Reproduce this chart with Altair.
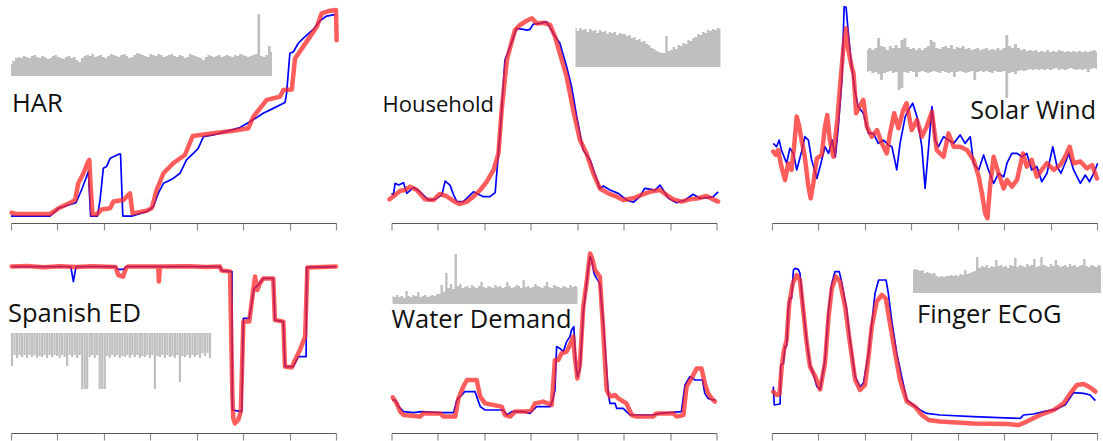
import altair as alt
import pandas as pd

# ---------------- data (x: % of the time axis, y: % of panel height) ----------------
NAMES = ["HAR", "Household", "Solar Wind", "Spanish ED", "Water Demand", "Finger ECoG"]
TICK_VALUES = [100 * k / 7 for k in range(8)]

har_true = [[0,3.1],[12,3.1],[14.6,6.6],[20,9.1],[21.7,14.8],[23.8,23],[24.5,3.1],[26.6,3.1],[27.4,10.3],[28.4,24.5],[29.4,25.3],[30.5,29],[33.3,30.9],[33.7,30.9],[34.4,3.1],[37.1,3.1],[41.7,5.1],[43.8,7.3],[45.3,13.3],[46.9,17.8],[47.9,18.5],[49.9,20],[52,22.3],[54,28.3],[56.1,31.2],[57.6,33.5],[59.2,38.7],[62.3,39.5],[70.5,42.8],[73.5,45.4],[77.6,49.2],[80.7,51.4],[84.3,54],[84.8,58.1],[85.8,76.1],[86.9,76.8],[88.4,80.6],[89.9,82.8],[93,86.8],[95.1,90.7],[97.1,92.8],[99.2,93.3],[99.7,93.3]]
har_pred = [[0.2,4.6],[1.7,4.0],[12,4.0],[14.6,6.6],[18.2,9.1],[19.7,10.3],[20.7,17.8],[22.3,22.3],[23.5,26.8],[24.1,28.3],[24.5,16.3],[25.1,3.9],[26.4,3.9],[27.9,6.1],[30.5,6.6],[31.5,9.6],[34.6,10.3],[36.6,13.3],[37.4,4.3],[41.7,5.5],[43.3,6.6],[44.8,14.8],[46.9,22.3],[49.9,26.8],[53.5,30.5],[55.9,39],[58.2,39.5],[62.3,40.2],[68.4,41.4],[73,42.5],[74.6,47.7],[78.7,55.2],[82.8,56.7],[83.8,59.6],[86.4,59.9],[87.4,73.8],[89.9,79.1],[94.1,88],[95.6,94],[98.2,95.2],[100,95.5],[100.2,82]]

hh_true = [[0,13.3],[0.6,12.6],[1.1,17.8],[2.2,17],[3.7,18.1],[4.7,13.3],[6.8,16],[8.8,14],[11.4,10.3],[13.4,10.6],[15.5,12.6],[16.5,18.8],[18,17],[19.1,12.6],[20.1,9.6],[22.1,9.6],[25.2,14],[28.3,11.8],[30.3,11.8],[31.9,13.6],[33.4,40.2],[34.9,73.1],[36.5,79.1],[38.5,87.3],[40.6,86.8],[41.6,86.5],[42.6,86.8],[43.6,89.2],[45.7,89.5],[47.7,90.3],[49.8,85],[51.8,80.6],[53.9,70.1],[55.4,61.1],[57,47.7],[59,32.7],[61.1,28.3],[64.1,15.5],[65.2,16.6],[67.2,14.8],[69.8,13.3],[72.3,10.3],[74.4,9.3],[76.4,11.8],[77.9,15.5],[80,15.1],[81,14.5],[82.6,17],[83.6,14.8],[85.2,11.1],[87.7,9.1],[90.4,10.3],[92.8,12.9],[94.9,11.1],[97.4,11.4],[99,11.8],[100.5,14]]
hh_pred = [[-0.6,10.6],[1.1,12.6],[2.7,14.5],[4.2,14.8],[5.7,16.3],[7.8,14.8],[10.3,10.6],[12.9,10.3],[14.8,13],[16.9,12.1],[18.9,10],[20.9,8.5],[23.2,9.6],[25.2,11.8],[27.3,14.8],[29.3,18.5],[31.4,23.8],[32.9,31.2],[33.9,50.7],[35.5,73.1],[37,81.3],[38,86.5],[39.5,88.8],[41.6,90.7],[43.2,91.8],[44.7,89.5],[46.7,89.8],[48.8,88.8],[50.3,83.6],[51.8,76.1],[53.9,65.6],[55.9,50.7],[58,37.2],[60,31.2],[62.1,22.3],[64.1,15.5],[66.7,13.3],[69.3,11.8],[71.3,10.3],[74.4,11.1],[76.9,12.6],[79.5,14],[82.6,14.8],[84.6,12.6],[86.7,10.6],[89.3,9.6],[91.8,10.6],[94.4,11.1],[96.9,12.1],[99,10.6],[100.5,9.6]]

sw_true = [[0.4,35.7],[1.4,34.2],[2.2,37.2],[2.9,32.7],[4.5,26.8],[5.5,33.5],[6.6,31.2],[7.6,23.8],[9.1,32],[10.1,38.7],[11.2,37.2],[12.2,28.3],[13.8,20],[14.8,25.3],[16.3,34.2],[17.4,31.2],[18.5,37.2],[19.5,29.7],[20.4,43.2],[21.5,64.1],[22.2,97],[22.8,96.7],[23.5,85],[24.5,70.1],[25.5,59.6],[26.5,52.2],[28.1,49.2],[29.7,40.2],[31.2,40.2],[32.7,35.7],[34.3,37.2],[35.8,35],[36.9,34.2],[38.4,23.8],[39.4,35.7],[41,47.7],[42,50.7],[43.3,53.7],[44.6,47.7],[46.1,34.2],[47.1,15.5],[48.2,34.2],[49.2,52.2],[50.2,37.2],[51.2,34.2],[52.8,38.7],[54.3,37.2],[55.9,35.7],[57.9,39.5],[59.4,35.7],[61,38.7],[62,26.8],[63.6,23.8],[65.1,30.5],[66.6,23.8],[68.2,17.8],[69.7,22.3],[71.3,20.7],[72.3,26.8],[73.8,31.2],[75.4,31.2],[76.9,29.7],[78.4,31.2],[79.9,23.8],[81.5,25.3],[83,18.5],[84.6,22.3],[86.4,34.2],[87.7,25.3],[88.9,22.3],[90.2,26.8],[91.3,31.2],[92.8,23.8],[94.9,17.8],[96.4,21.5],[97.7,18.5],[99,22.3],[100.2,26.8]]
sw_pred = [[0.4,32],[1.2,30.5],[1.9,32.7],[2.9,25.3],[4,19.3],[5,26.8],[6,23.8],[6.8,34.2],[7.6,47.7],[8.4,43.2],[9.1,37.2],[10.1,29.7],[11.2,16.3],[11.9,11.1],[12.7,17.8],[13.8,29],[15.3,30.5],[16.3,43.2],[17,48.4],[17.8,37.2],[18.9,29.7],[20.1,46.2],[21.1,64.1],[22,79.1],[22.8,87.3],[23.5,77.6],[24.5,70.1],[25.1,67.1],[25.9,49.2],[26.9,52.2],[28.1,55.2],[29.2,43.2],[30.7,38.7],[32.3,41.7],[33.8,35.7],[35.3,31.2],[36.3,40.2],[37.6,49.2],[38.9,42.5],[40.4,50.7],[41.4,53.7],[43,41.7],[44.6,46.2],[46.1,38.7],[47.6,43.2],[49.2,49.9],[50.7,32.7],[52.8,29.7],[54.3,40.2],[55.9,34.2],[57.9,34.2],[60,32.7],[62,28.3],[63.6,20.8],[64.6,13.3],[65.6,4.3],[66.3,2.1],[67.1,16.3],[68.2,29.7],[69.7,22.3],[71.3,15.5],[72.3,19.3],[73.8,16.3],[75.4,19.3],[77.2,31.2],[78.4,25.3],[79.9,28.3],[81.5,20.8],[83,23.8],[84.6,26.8],[86.7,23.8],[88.7,26],[90.2,29.7],[91.6,34.2],[92.8,26.8],[94.9,27.6],[96.9,24.5],[98.5,26],[100,20]]

ed_true = [[0.2,83.2],[18.4,83.2],[19.2,75.7],[20,83.2],[32,83.2],[33,81.8],[34.6,81.8],[35.4,83.2],[64.3,83.2],[64.8,81.2],[67.3,80.7],[68,80.7],[68.1,11.5],[71,10.7],[71.5,57.3],[73.3,57.3],[74.8,72.3],[76.1,74],[77.6,77.3],[80.7,77.3],[81.2,56.5],[83.8,55.7],[84.3,33.2],[86.9,33.2],[88.4,38.2],[90.8,38.2],[91,82.8],[100,83.2]]
ed_pred = [[0.2,83.2],[5,83.5],[10,82.9],[15,83.4],[20,83],[25,83.4],[32.2,83],[33,79],[34.5,78.2],[35.4,82.5],[36,83.2],[45.3,83.2],[45.5,75.7],[45.8,83.2],[55,83.4],[60,83],[64.3,83.2],[64.8,81.2],[67.4,80.7],[68.1,20],[68.4,7.3],[68.9,4.8],[69.9,6.5],[70.7,10.7],[71.5,55.7],[73.3,55.7],[74.6,72.3],[75.1,78.2],[75.8,71.5],[76.6,74.8],[77.6,77.3],[80.7,77.3],[81.2,56.5],[83.8,55.7],[84.3,33.2],[86.4,32.8],[87.4,36.5],[88.9,41.5],[90.5,48.2],[91.2,82.8],[100,83.2]]

wd_true = [[0.2,16.5],[1.1,16.5],[2.2,13.2],[3.7,10.7],[6.8,10.2],[9.2,10.7],[15,10.2],[19.1,10.2],[20.1,16.5],[22.1,19.8],[22.5,20.7],[25.7,20.7],[27.3,13.2],[28.8,11.5],[34.4,11.5],[35.5,9],[37,10.7],[40.6,10.7],[42.6,9.8],[43.6,11.5],[44.7,13.2],[48.8,13.2],[49.6,16.5],[50.3,21.5],[50.8,43.2],[51.8,42.3],[52.9,40.7],[53.9,45.7],[54.9,48.2],[55.4,51.5],[56.1,53.2],[56.8,33.2],[57.2,28.2],[58,31.5],[59,59.8],[60,74.8],[60.6,83.2],[61.1,88.2],[61.6,86.5],[62.3,79.8],[63.1,77.3],[64.1,74.8],[65.2,54.8],[66.2,31.5],[66.7,19.8],[67.2,14.8],[68.8,14.8],[69.3,12.3],[71.3,12.3],[72.3,10.7],[73.4,9],[80.5,9],[82.6,9.8],[89.2,10.7],[90.3,24],[91.8,28.2],[93.4,26.5],[95.7,26.5],[96.4,19.8],[97.4,17.3],[99,16.5],[99.8,16.5]]
wd_pred = [[0.4,17.8],[1.6,14.8],[2.7,10.7],[3.7,9],[8.8,8.2],[9.8,9.8],[15,9.8],[16,8.2],[19.6,8.2],[20.6,17.3],[22.1,23.2],[23.2,26.5],[26.2,26.5],[27.3,18.2],[28.8,14.8],[33.9,13.2],[34.9,9],[36.5,8.2],[38,10.7],[41.6,10.7],[43.1,11.5],[44.1,14.8],[46.7,15.7],[49.3,14],[50.3,36.5],[51.3,36.5],[52.3,39.8],[53.9,40.7],[54.9,44],[55.9,48.2],[56.4,38.2],[57.2,27.3],[58,34.8],[59,63.2],[60,74.8],[61.1,89.8],[61.9,86.5],[62.6,81.5],[64.1,78.2],[65,54.8],[66.2,21.5],[67.2,18.2],[68.8,19],[69.8,17.3],[72.3,14.8],[73.9,9],[75.4,8.2],[80.5,8.2],[81.5,9.8],[86.8,9.8],[87.7,8.2],[89.8,9],[90.8,23.2],[92.3,27.3],[93.9,32.3],[95.4,32.3],[96.4,24.8],[97.4,19.8],[98.5,17.3],[99.5,15.7]]

ecog_true = [[0.4,23.2],[0.7,14],[2.5,14.5],[2.7,34],[3.5,34.8],[4,43.2],[4.5,43.5],[5,62.3],[5.5,67.3],[6,67.3],[6.6,81.5],[7.1,82.3],[8.1,81.8],[8.6,79.8],[9.6,62.3],[10.7,45.7],[11.7,34],[12.7,29.8],[13.8,23.2],[14.8,21.8],[16.3,36.5],[17.4,61.5],[18.4,74.8],[19.4,80.7],[20.7,80.7],[21.4,75.8],[23,61.5],[24,46.5],[25.6,28.2],[27.1,23.2],[28.1,24.8],[29.7,39.8],[30.7,54.8],[31.7,69.8],[32.8,76.5],[35.1,76.5],[35.8,69.8],[36.8,56.5],[38.4,39.8],[39.9,28.2],[41.5,16.5],[43.5,14],[45.6,11.5],[47.6,9.8],[51.7,9],[61.9,8.2],[76.4,7.3],[77.4,9],[80.5,9.5],[83.6,10.7],[87.2,11.8],[90.2,14],[92.8,20.2],[95.9,19.8],[97.9,19],[99.5,16.2]]
ecog_pred = [[0.4,20.7],[1.4,19],[2.3,19.5],[3,33.2],[3.7,41.5],[4.5,46.5],[5.3,64.8],[6.4,74.8],[7.6,79],[8.6,76.5],[9.6,61.5],[10.7,44.8],[11.7,33.2],[13.3,28.2],[14.8,21.8],[16.3,34.8],[17.4,58.2],[18.4,72.3],[19.7,78.2],[20.9,75.8],[22.5,63.2],[24,44.8],[25.6,26.5],[27.1,21.5],[28.6,24],[29.7,38.2],[30.7,53.2],[32.2,65.7],[33.8,69],[35,67.3],[36.3,54.8],[37.9,39.8],[39.4,26.5],[41.5,15.7],[44,13.2],[46.1,9],[48.2,6.5],[51.7,5.7],[62,4.8],[72.3,4.5],[75.9,4],[78.4,5.7],[82.5,9],[86.7,11.5],[89.7,14.8],[91.8,19.8],[93.8,24],[95.9,24.5],[97.9,22.8],[99.5,20.7]]

# gray inset input signals (heights, read from the small thumbnails)
har_input = [12,15,18,19,18,20,19,18,20,21,19,18,20,19,17,18,20,21,19,18,
             17,19,20,18,19,16,14,18,20,21,20,22,19,20,21,19,18,20,22,21,
             20,19,21,22,20,18,19,21,23,22,21,20,19,22,21,20,22,21,19,20,
             21,22,20,19,21,20,18,19,22,21,20,19,18,16,19,21,20,19,20,21,
             19,20,21,20,19,21,20,22,21,20,19,20,21,22,62,20,19,21,30,24]
hh_input = [39,36,39,37,38,35,38,36,37,34,37,35,36,33,35,34,35,32,34,33,
            33,31,32,29,30,27,28,25,26,23,22,19,18,16,15,14,14,31,16,17,
            20,18,22,21,24,23,27,26,29,30,33,32,35,34,37,36,38,37,39,38]
sw_input_hi = [10,12,10,12,22,14,13,10,14,12,15,12,20,22,13,11,12,10,12,10,
               12,14,20,18,12,11,13,14,12,15,11,13,12,14,11,12,10,11,12,10,
               11,12,10,11,10,12,10,12,25,14,12,16,12,10,11,9,10,9,10,8,
               9,8,10,8,9,8,10,9,8,9,8,9,8,9,8,9,8,9,10,8]
sw_input_lo = [12,11,13,12,14,20,13,12,11,13,12,30,28,12,13,11,12,17,12,11,
               12,13,12,11,12,13,11,12,13,12,17,12,11,12,13,12,11,20,12,11,
               12,11,12,13,11,12,12,11,38,13,12,14,11,10,11,10,9,10,9,10,
               9,10,9,10,9,8,10,9,10,9,8,9,10,9,10,9,12,9,8,9]
ed_input = [33,22,25,22,24,22,25,22,24,22,25,23,24,22,25,22,24,22,23,25,
            22,24,33,22,24,22,25,22,56,56,56,24,22,25,22,56,56,56,23,25,
            22,24,22,25,23,24,22,25,22,24,22,25,23,24,22,25,22,56,23,24,
            22,25,22,24,23,25,22,49,23,24,22,25,22,24,22,25,20,23,20,25]
wd_input = [8,7,9,7,8,6,13,8,7,9,8,12,7,8,9,7,8,9,8,10,
            10,19,12,31,16,20,15,50,18,20,16,17,18,16,19,17,16,18,22,17,
            16,18,17,16,19,17,18,16,17,22,18,16,17,19,18,16,24,17,18,16,
            17,20,18,17,16,18,22,17,16,19,18,17,16,18,17,16,19,17,18,17]
ecog_input = [23,24,23,22,23,20,21,20,19,20,17,16,17,16,17,17,18,17,18,17,
              19,18,23,19,20,21,22,36,25,27,26,28,25,27,26,33,27,28,26,27,
              25,28,27,35,26,28,27,26,29,27,28,34,26,27,36,28,27,26,29,27,
              33,28,26,27,28,26,29,27,28,26,27,28,34,27,26,28,27,26,28,27]

# ---------------- styling ----------------
BLUE = "#0000ff"
RED = "#ff2626"
GRAY = "#bfbfbf"
FONT = "Open Sans"
W = 325
H1, H2 = 223, 200


def series_df(pairs):
    df = pd.DataFrame(pairs, columns=["x", "y"])
    df["i"] = range(len(df))
    return df


def inset_area(vals, x0, x1, base, top, vmax):
    df = pd.DataFrame({"i": range(len(vals)), "v": vals})
    return alt.Chart(df).mark_area(color=GRAY, interpolate="step").encode(
        x=alt.X("i:Q", scale=alt.Scale(domain=[0, len(vals) - 1], range=[x0, x1], nice=False, zero=False), axis=None),
        y=alt.Y("v:Q", scale=alt.Scale(domain=[0, vmax], range=[base, top], nice=False), axis=None),
    )


def inset_rules(vals, x0, x1, top, vmax):
    df = pd.DataFrame({"i": range(len(vals)), "v": vals, "z": [0] * len(vals)})
    return alt.Chart(df).mark_rule(color=GRAY, strokeWidth=2.2).encode(
        x=alt.X("i:Q", scale=alt.Scale(domain=[0, len(vals) - 1], range=[x0, x1], nice=False, zero=False), axis=None),
        y=alt.Y("z:Q", scale=alt.Scale(domain=[0, vmax], range=[top, top + vmax], nice=False), axis=None),
        y2="v:Q",
    )


def inset_band(hi, lo, x0, x1, center, half):
    df = pd.DataFrame({"i": range(len(hi)), "hi": hi, "lo": [-v for v in lo]})
    return alt.Chart(df).mark_area(color=GRAY, interpolate="step").encode(
        x=alt.X("i:Q", scale=alt.Scale(domain=[0, len(hi) - 1], range=[x0, x1], nice=False, zero=False), axis=None),
        y=alt.Y("hi:Q", scale=alt.Scale(domain=[-half, half], range=[center + half, center - half], nice=False), axis=None),
        y2="lo:Q",
    )


def label(name, x, y, size, align="left"):
    return alt.Chart(pd.DataFrame({"t": [name]})).mark_text(
        align=align, baseline="alphabetic", font=FONT, fontSize=size, color="#111111"
    ).encode(text="t:N", x=alt.value(x), y=alt.value(y))


def panel(truth, pred, inset, lab, h):
    xs = alt.Scale(domain=[0, 100], nice=False, zero=False)
    ys = alt.Scale(domain=[0, 100], nice=False, zero=False)
    axis = alt.Axis(values=TICK_VALUES, labels=False, title=None, grid=False,
                    domainColor="#595959", domainWidth=1.2,
                    tickColor="#8c8c8c", tickWidth=1.2, tickSize=7)
    blue = alt.Chart(series_df(truth)).mark_line(color=BLUE, strokeWidth=1.7, strokeJoin="round").encode(
        x=alt.X("x:Q", scale=xs, axis=axis), y=alt.Y("y:Q", scale=ys, axis=None), order="i:Q")
    red = alt.Chart(series_df(pred)).mark_line(color=RED, strokeWidth=4.5, opacity=0.75,
                                               strokeJoin="round", strokeCap="round").encode(
        x=alt.X("x:Q", scale=xs, axis=None), y=alt.Y("y:Q", scale=ys, axis=None), order="i:Q")
    return alt.layer(inset, blue, red, lab).resolve_scale(x="independent", y="independent").properties(width=W, height=h)


p1 = panel(har_true, har_pred, inset_area(har_input, 0, 261, 76, 14, 62), label(NAMES[0], 1, 112, 25.5), H1)
p2 = panel(hh_true, hh_pred, inset_area(hh_input, 184, 329, 67, 27, 40), label(NAMES[1], -9, 112, 22), H1)
p3 = panel(sw_true, sw_pred, inset_band(sw_input_hi, sw_input_lo, 95, 325, 60, 40), label(NAMES[2], 324, 119, 25, "right"), H1)
p4 = panel(ed_true, ed_pred, inset_rules(ed_input, 1, 199, 100, 60), label(NAMES[3], -3, 89, 25.5), H2)
p5 = panel(wd_true, wd_pred, inset_area(wd_input, 1, 186, 71, 21, 50), label(NAMES[4], 0, 95, 25.5), H2)
p6 = panel(ecog_true, ecog_pred, inset_area(ecog_input, 141, 329, 60, 20, 40), label(NAMES[5], 145, 90, 25.5), H2)

chart = alt.concat(p1, p2, p3, p4, p5, p6, columns=3, bounds="flush",
                   spacing={"row": 10, "column": 55.5}).properties(
    padding={"left": 8, "top": 0, "right": 0, "bottom": 0}, background="white"
).configure_view(strokeWidth=0)

chart.save("out.html", embed_options={"renderer": "svg", "actions": False})
